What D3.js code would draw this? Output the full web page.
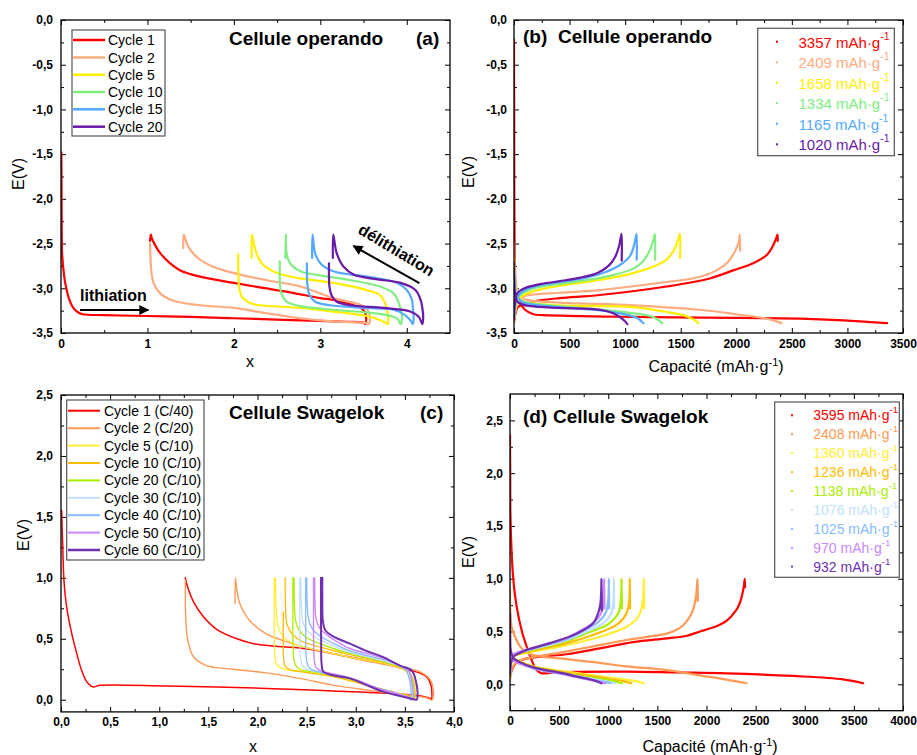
<!DOCTYPE html>
<html><head><meta charset="utf-8">
<script src="https://cdn.jsdelivr.net/npm/d3@7"></script>
<style>
body{margin:0;background:#fff;}
svg{font-family:"Liberation Sans",Arial,sans-serif;}
</style></head><body>
<svg id="chart" width="917" height="755"></svg>
<script>
// ---------------- DATA ----------------
// Panel (a): E(V) vs x, Cellule operando
const aCycles = ["Cycle 1","Cycle 2","Cycle 5","Cycle 10","Cycle 15","Cycle 20"];
const a1 = [[0.004,-1.48],[0.006,-1.9],[0.008,-2.3],[0.012,-2.6],[0.027,-2.78],[0.045,-2.92],[0.066,-3.02],[0.09,-3.11],[0.124,-3.19],[0.16,-3.24],[0.2,-3.27],[0.25,-3.29],[0.5,-3.30],[1.0,-3.31],[1.5,-3.32],[2.0,-3.335],[2.5,-3.35],[3.0,-3.365],[3.3,-3.375],[3.5,-3.385],[3.52,-3.40],[3.53,-3.36],[3.52,-3.28],[3.47,-3.22],[3.35,-3.18],[3.15,-3.13],[3.0,-3.11],[2.65,-3.045],[2.3,-2.99],[2.0,-2.94],[1.61,-2.87],[1.38,-2.80],[1.25,-2.71],[1.15,-2.61],[1.09,-2.52],[1.05,-2.44],[1.04,-2.40],[1.03,-2.47]];
const a2 = [[1.03,-2.5],[1.035,-2.65],[1.04,-2.76],[1.07,-2.94],[1.15,-3.06],[1.25,-3.12],[1.34,-3.15],[1.61,-3.19],[2.0,-3.22],[2.38,-3.28],[2.77,-3.335],[3.15,-3.37],[3.54,-3.39],[3.56,-3.40],[3.575,-3.35],[3.56,-3.27],[3.52,-3.21],[3.42,-3.17],[3.15,-3.11],[2.77,-2.98],[2.38,-2.91],[2.0,-2.83],[1.76,-2.76],[1.57,-2.65],[1.47,-2.53],[1.42,-2.40],[1.415,-2.55]];
const a5 = [[2.05,-2.62],[2.05,-2.75],[2.052,-2.87],[2.065,-3.02],[2.09,-3.09],[2.13,-3.13],[2.2,-3.17],[2.3,-3.19],[2.77,-3.22],[3.15,-3.26],[3.54,-3.31],[3.69,-3.355],[3.76,-3.39],[3.78,-3.40],[3.785,-3.33],[3.77,-3.24],[3.75,-3.17],[3.69,-3.075],[3.54,-3.02],[3.15,-2.94],[2.77,-2.89],[2.5,-2.83],[2.34,-2.74],[2.27,-2.63],[2.23,-2.50],[2.21,-2.40],[2.205,-2.66]];
const a10 = [[2.53,-2.70],[2.53,-2.82],[2.532,-2.94],[2.55,-3.06],[2.61,-3.15],[2.77,-3.20],[3.15,-3.24],[3.54,-3.27],[3.77,-3.30],[3.89,-3.34],[3.93,-3.40],[3.945,-3.32],[3.93,-3.24],[3.91,-3.17],[3.85,-3.06],[3.69,-2.98],[3.35,-2.91],[2.96,-2.85],[2.77,-2.81],[2.65,-2.72],[2.61,-2.61],[2.60,-2.40],[2.595,-2.66]];
const a15 = [[2.845,-2.72],[2.845,-2.84],[2.85,-2.96],[2.875,-3.075],[2.94,-3.15],[3.115,-3.19],[3.54,-3.22],[3.85,-3.24],[3.98,-3.30],[4.04,-3.355],[4.07,-3.40],[4.08,-3.32],[4.07,-3.22],[4.06,-3.13],[4.0,-3.02],[3.89,-2.94],[3.54,-2.87],[3.15,-2.81],[3.0,-2.72],[2.94,-2.61],[2.91,-2.40],[2.905,-2.66]];
const a20 = [[3.10,-2.72],[3.10,-2.85],[3.105,-2.98],[3.135,-3.09],[3.19,-3.15],[3.35,-3.19],[3.73,-3.22],[4.04,-3.26],[4.14,-3.32],[4.18,-3.40],[4.19,-3.32],[4.18,-3.22],[4.16,-3.13],[4.10,-3.02],[3.93,-2.94],[3.66,-2.90],[3.39,-2.85],[3.27,-2.76],[3.19,-2.61],[3.15,-2.40],[3.145,-2.66]];
const aSeries = [a1,a2,a5,a10,a15,a20];
const aColors = ["#ff0000","#ffab80","#ffee00","#80ee80","#55aaff","#6a1aa8"];

// Panel (b): E(V) vs capacity, Cellule operando
const bCaps = ["3357","2409","1658","1334","1165","1020"];
const b1d = [[0,-0.22],[1,-0.8],[2,-1.5],[3,-2.0],[5,-2.45],[8,-2.75],[15,-2.98],[39,-3.13],[99,-3.24],[174,-3.29],[264,-3.30],[1073,-3.32],[1972,-3.33],[2572,-3.34],[2811,-3.35],[3111,-3.37],[3357,-3.39]];
const b1c = [[0,-3.38],[10,-3.30],[30,-3.22],[60,-3.19],[110,-3.17],[204,-3.14],[414,-3.11],[773,-3.075],[1372,-2.98],[1762,-2.89],[1972,-2.80],[2152,-2.72],[2272,-2.63],[2332,-2.52],[2362,-2.43],[2371,-2.40],[2373,-2.47]];
const b2d = [[0,-2.5],[3,-2.7],[8,-2.85],[20,-2.98],[39,-3.05],[70,-3.10],[114,-3.13],[414,-3.16],[1073,-3.19],[1673,-3.24],[2000,-3.29],[2272,-3.34],[2409,-3.39]];
const b2c = [[0,-3.38],[10,-3.28],[30,-3.18],[60,-3.11],[114,-3.08],[414,-3.05],[773,-3.02],[1372,-2.93],[1650,-2.88],[1822,-2.80],[1930,-2.70],[1990,-2.58],[2025,-2.47],[2032,-2.40],[2034,-2.58]];
const b5d = [[0,-2.65],[3,-2.8],[8,-2.95],[20,-3.05],[45,-3.12],[114,-3.16],[400,-3.19],[1073,-3.21],[1350,-3.26],[1522,-3.30],[1620,-3.35],[1658,-3.39]];
const b5c = [[0,-3.35],[10,-3.25],[30,-3.15],[60,-3.10],[114,-3.06],[250,-3.01],[474,-2.96],[800,-2.90],[1073,-2.83],[1250,-2.76],[1373,-2.68],[1440,-2.57],[1470,-2.48],[1493,-2.39],[1494,-2.66]];
const b10d = [[0,-2.7],[3,-2.85],[8,-2.97],[20,-3.06],[45,-3.12],[114,-3.16],[400,-3.20],[713,-3.23],[1013,-3.27],[1253,-3.32],[1334,-3.39]];
const b10c = [[0,-3.33],[10,-3.22],[30,-3.12],[60,-3.07],[114,-3.03],[250,-2.98],[414,-2.95],[700,-2.90],[900,-2.85],[1073,-2.78],[1160,-2.70],[1220,-2.58],[1250,-2.48],[1268,-2.39],[1269,-2.68]];
const b15d = [[0,-2.8],[3,-2.92],[10,-3.02],[30,-3.10],[70,-3.15],[150,-3.18],[400,-3.21],[713,-3.24],[953,-3.28],[1103,-3.33],[1165,-3.39]];
const b15c = [[0,-3.33],[10,-3.2],[30,-3.10],[60,-3.05],[114,-3.01],[250,-2.96],[414,-2.93],[650,-2.88],[820,-2.82],[953,-2.74],[1043,-2.64],[1080,-2.52],[1103,-2.39],[1104,-2.68]];
const b20d = [[0,-2.72],[2,-2.9],[8,-3.05],[25,-3.14],[70,-3.18],[150,-3.20],[400,-3.22],[773,-3.24],[893,-3.28],[983,-3.35],[1020,-3.40]];
const b20c = [[0,-3.35],[5,-3.2],[20,-3.08],[50,-3.03],[114,-2.99],[250,-2.95],[414,-2.92],[600,-2.88],[750,-2.83],[850,-2.75],[910,-2.65],[945,-2.53],[968,-2.39],[969,-2.69]];
const bSeries = [[b1d,b1c],[b2d,b2c],[b5d,b5c],[b10d,b10c],[b15d,b15c],[b20d,b20c]];

// Panel (c): E(V) vs x, Cellule Swagelok
const cCycles = ["Cycle 1 (C/40)","Cycle 2 (C/20)","Cycle 5 (C/10)","Cycle 10 (C/10)","Cycle 20 (C/10)","Cycle 30 (C/10)","Cycle 40 (C/10)","Cycle 50 (C/10)","Cycle 60 (C/10)"];
const c1 = [[0.007,1.55],[0.012,1.4],[0.018,1.25],[0.03,0.98],[0.058,0.76],[0.11,0.54],[0.16,0.38],[0.21,0.24],[0.26,0.15],[0.30,0.115],[0.33,0.105],[0.40,0.118],[1.08,0.112],[2.09,0.093],[2.77,0.071],[3.45,0.046],[3.70,0.025],[3.76,0.011],[3.77,0.0],[3.775,0.06],[3.765,0.12],[3.73,0.18],[3.65,0.22],[3.55,0.24],[3.28,0.30],[2.94,0.35],[2.64,0.40],[2.43,0.425],[2.16,0.44],[1.96,0.46],[1.79,0.50],[1.58,0.58],[1.45,0.68],[1.35,0.80],[1.29,0.92],[1.265,1.0]];
const c2 = [[1.266,0.98],[1.266,0.85],[1.268,0.71],[1.29,0.49],[1.35,0.35],[1.48,0.28],[1.75,0.25],[2.09,0.22],[2.43,0.175],[2.77,0.12],[3.11,0.08],[3.45,0.046],[3.72,0.016],[3.78,0.0],[3.79,0.04],[3.79,0.08],[3.76,0.16],[3.65,0.23],[3.49,0.26],[3.15,0.31],[2.81,0.37],[2.53,0.42],[2.30,0.475],[2.09,0.54],[1.92,0.65],[1.82,0.79],[1.79,0.9],[1.775,1.0],[1.772,0.79]];
const c5 = [[2.17,1.0],[2.17,0.7],[2.172,0.45],[2.18,0.34],[2.195,0.29],[2.23,0.265],[2.30,0.245],[2.43,0.23],[2.77,0.19],[3.0,0.145],[3.11,0.12],[3.3,0.08],[3.45,0.05],[3.55,0.02],[3.57,0.0],[3.575,0.06],[3.56,0.14],[3.52,0.22],[3.45,0.26],[3.28,0.30],[2.94,0.35],[2.60,0.41],[2.36,0.46],[2.26,0.52],[2.21,0.60],[2.19,0.76],[2.182,1.0]];
const c10 = [[2.262,0.72],[2.262,0.45],[2.265,0.34],[2.28,0.28],[2.32,0.25],[2.45,0.23],[2.77,0.19],[3.11,0.12],[3.3,0.08],[3.45,0.05],[3.57,0.02],[3.60,0.0],[3.605,0.06],[3.59,0.15],[3.55,0.22],[3.45,0.265],[3.28,0.31],[2.94,0.37],[2.65,0.43],[2.45,0.48],[2.35,0.54],[2.30,0.62],[2.285,0.78],[2.282,1.0]];
const c20 = [[2.36,1.0],[2.36,0.7],[2.362,0.45],[2.37,0.33],[2.39,0.28],[2.43,0.25],[2.55,0.23],[2.77,0.20],[3.0,0.155],[3.2,0.10],[3.4,0.06],[3.55,0.02],[3.59,0.0],[3.595,0.06],[3.58,0.15],[3.54,0.23],[3.45,0.27],[3.28,0.315],[2.94,0.38],[2.70,0.44],[2.52,0.50],[2.43,0.56],[2.39,0.64],[2.375,0.80],[2.372,1.0]];
const c30 = [[2.43,1.0],[2.43,0.7],[2.432,0.45],[2.44,0.33],[2.46,0.28],[2.50,0.25],[2.6,0.23],[2.8,0.20],[3.0,0.16],[3.2,0.10],[3.4,0.06],[3.53,0.02],[3.57,0.0],[3.575,0.06],[3.56,0.15],[3.53,0.23],[3.45,0.275],[3.28,0.32],[2.94,0.39],[2.75,0.45],[2.59,0.51],[2.50,0.57],[2.46,0.65],[2.445,0.80],[2.442,1.0]];
const c40 = [[2.49,1.0],[2.49,0.7],[2.492,0.45],[2.50,0.32],[2.52,0.27],[2.56,0.245],[2.65,0.225],[2.85,0.195],[3.0,0.16],[3.2,0.10],[3.4,0.055],[3.53,0.015],[3.56,0.0],[3.565,0.06],[3.55,0.15],[3.52,0.23],[3.45,0.28],[3.28,0.33],[2.94,0.40],[2.78,0.46],[2.64,0.52],[2.56,0.58],[2.52,0.66],[2.505,0.80],[2.502,1.0]];
const c50 = [[2.57,1.0],[2.57,0.7],[2.572,0.45],[2.58,0.31],[2.60,0.26],[2.65,0.235],[2.75,0.215],[2.9,0.19],[3.05,0.15],[3.2,0.10],[3.4,0.055],[3.55,0.015],[3.58,0.0],[3.585,0.06],[3.57,0.15],[3.54,0.235],[3.45,0.28],[3.28,0.34],[2.94,0.42],[2.82,0.47],[2.71,0.53],[2.63,0.59],[2.595,0.67],[2.585,0.80],[2.582,1.0]];
const c60 = [[2.646,1.0],[2.646,0.7],[2.648,0.45],[2.652,0.30],[2.67,0.23],[2.77,0.20],[2.94,0.175],[3.11,0.12],[3.28,0.066],[3.45,0.03],[3.59,0.003],[3.62,0.0],[3.63,0.05],[3.61,0.16],[3.57,0.24],[3.45,0.28],[3.28,0.35],[3.11,0.40],[2.94,0.46],[2.77,0.52],[2.69,0.57],[2.665,0.65],[2.66,0.84],[2.66,1.0]];
const cSeries = [c1,c2,c5,c10,c20,c30,c40,c50,c60];
const cColors = ["#ff0000","#ff9955","#ffee33","#ffbb00","#aaee00","#c0e0ff","#88bbff","#cc88ff","#7030b0"];

// Panel (d): E(V) vs capacity, Cellule Swagelok
const dCaps = ["3595","2408","1360","1236","1138","1076","1025","970","932"];
const d1d = [[0,2.36],[2,2.0],[4,1.62],[17,1.24],[34,0.99],[68,0.735],[119,0.51],[170,0.356],[220,0.23],[271,0.136],[320,0.105],[339,0.104],[441,0.11],[700,0.118],[1187,0.12],[1700,0.112],[2204,0.104],[2882,0.079],[3390,0.047],[3594,0.01]];
const d1c = [[0,0.06],[20,0.14],[60,0.20],[150,0.24],[350,0.265],[577,0.285],[915,0.34],[1254,0.40],[1594,0.435],[1800,0.46],[1932,0.50],[2100,0.55],[2204,0.60],[2300,0.70],[2339,0.77],[2375,0.90],[2390,1.0],[2392,0.92]];
const d2d = [[0,0.9],[3,0.7],[15,0.55],[51,0.45],[102,0.36],[170,0.30],[300,0.265],[509,0.245],[848,0.21],[1187,0.17],[1594,0.135],[1932,0.085],[2204,0.045],[2408,0.01]];
const d2c = [[0,0.04],[20,0.15],[68,0.21],[170,0.245],[509,0.30],[848,0.36],[1187,0.42],[1400,0.45],[1594,0.48],[1700,0.52],[1763,0.56],[1830,0.64],[1865,0.71],[1895,0.85],[1909,1.0],[1911,0.79]];
const d5d = [[0,0.35],[5,0.30],[20,0.26],[60,0.235],[237,0.17],[576,0.12],[915,0.075],[1254,0.035],[1360,0.01]];
const d5c = [[0,0.05],[10,0.18],[34,0.26],[100,0.285],[237,0.31],[577,0.37],[915,0.45],[1187,0.545],[1305,0.64],[1350,0.77],[1363,1.0],[1365,0.72]];
const d10d = [[0,0.33],[5,0.29],[20,0.255],[60,0.23],[237,0.165],[576,0.11],[915,0.065],[1150,0.03],[1236,0.01]];
const d10c = [[0,0.06],[10,0.19],[34,0.265],[100,0.29],[237,0.32],[577,0.39],[850,0.47],[1080,0.56],[1180,0.66],[1212,0.78],[1220,1.0],[1222,0.72]];
const d20d = [[0,0.32],[5,0.28],[20,0.25],[60,0.225],[237,0.16],[576,0.10],[900,0.055],[1080,0.025],[1138,0.01]];
const d20c = [[0,0.07],[10,0.2],[34,0.27],[100,0.295],[237,0.33],[577,0.41],[800,0.49],[1000,0.57],[1100,0.67],[1128,0.79],[1136,1.0],[1138,0.72]];
const d30d = [[0,0.31],[5,0.275],[20,0.245],[60,0.22],[237,0.155],[576,0.095],[850,0.05],[1020,0.02],[1076,0.01]];
const d30c = [[0,0.08],[10,0.21],[34,0.275],[100,0.30],[237,0.335],[577,0.42],[780,0.50],[950,0.58],[1030,0.67],[1052,0.79],[1058,1.0],[1060,0.72]];
const d40d = [[0,0.30],[5,0.27],[20,0.24],[60,0.215],[237,0.15],[576,0.09],[820,0.045],[975,0.02],[1025,0.01]];
const d40c = [[0,0.09],[10,0.22],[34,0.28],[100,0.305],[237,0.34],[577,0.43],[750,0.51],[900,0.59],[975,0.68],[1000,0.80],[1007,1.0],[1009,0.72]];
const d50d = [[0,0.30],[5,0.265],[20,0.24],[60,0.21],[237,0.155],[576,0.09],[800,0.045],[930,0.02],[970,0.01]];
const d50c = [[0,0.09],[10,0.22],[34,0.28],[100,0.31],[237,0.345],[577,0.44],[720,0.51],[860,0.59],[930,0.68],[952,0.80],[959,1.0],[961,0.72]];
const d60d = [[0,0.67],[2,0.45],[8,0.32],[34,0.25],[100,0.21],[237,0.16],[509,0.11],[700,0.07],[848,0.04],[932,0.01]];
const d60c = [[0,0.10],[10,0.2],[34,0.26],[170,0.325],[407,0.39],[678,0.48],[847,0.58],[915,0.735],[932,1.0],[934,0.70]];
const dSeries = [[d1d,d1c],[d2d,d2c],[d5d,d5c],[d10d,d10c],[d20d,d20c],[d30d,d30c],[d40d,d40c],[d50d,d50c],[d60d,d60c]];

// Ticks
const aXTicks = [0,1,2,3,4], aXMinor = [0.5,1.5,2.5,3.5];
const opYTicks = [0,-0.5,-1,-1.5,-2,-2.5,-3,-3.5], opYMinor = [-0.25,-0.75,-1.25,-1.75,-2.25,-2.75,-3.25];
const bXTicks = [0,500,1000,1500,2000,2500,3000,3500], bXMinor = [250,750,1250,1750,2250,2750,3250];
const cXTicks = [0,0.5,1,1.5,2,2.5,3,3.5,4], cXMinor = [0.25,0.75,1.25,1.75,2.25,2.75,3.25,3.75];
const swYTicks = [0,0.5,1,1.5,2,2.5], swYMinor = [0.25,0.75,1.25,1.75,2.25];
const dXTicks = [0,500,1000,1500,2000,2500,3000,3500,4000], dXMinor = [250,750,1250,1750,2250,2750,3250,3750];

// ---------------- DRAWING ----------------
const svg = d3.select("#chart");
const fmtComma = d => (d < 0 ? "-" : "") + Math.abs(d).toFixed(1).replace(".", ",");
const fmtInt = d => String(d);

function panel(cfg){
  const x = d3.scaleLinear().domain(cfg.xd).range([cfg.l, cfg.r]);
  const y = d3.scaleLinear().domain(cfg.yd).range([cfg.b, cfg.t]);
  const g = svg.append("g");
  const clipId = "clip-" + cfg.name;
  svg.append("defs").append("clipPath").attr("id", clipId)
    .append("rect").attr("x", cfg.l).attr("y", cfg.t).attr("width", cfg.r - cfg.l).attr("height", cfg.b - cfg.t);

  function styleAxis(sel){
    sel.select(".domain").remove();
    sel.attr("font-size", null).attr("font-family", null);
    sel.selectAll("line").attr("stroke", "#000").attr("stroke-width", 1);
    sel.selectAll("text").attr("font-size", 12).attr("font-weight", "bold").attr("fill", "#000");
  }
  const xMaj = (ax) => ax.tickValues(cfg.xt).tickSizeInner(-5).tickSizeOuter(0);
  const yMaj = (ax) => ax.tickValues(cfg.yt).tickSizeInner(-5).tickSizeOuter(0);
  g.append("g").attr("transform", `translate(0,${cfg.b})`)
    .call(xMaj(d3.axisBottom(x)).tickFormat(cfg.fx).tickPadding(6)).call(styleAxis);
  g.append("g").attr("transform", `translate(0,${cfg.b})`)
    .call(d3.axisBottom(x).tickValues(cfg.xm).tickSizeInner(-3).tickSizeOuter(0).tickFormat("")).call(styleAxis);
  g.append("g").attr("transform", `translate(0,${cfg.t})`)
    .call(xMaj(d3.axisTop(x)).tickFormat("")).call(styleAxis);
  g.append("g").attr("transform", `translate(0,${cfg.t})`)
    .call(d3.axisTop(x).tickValues(cfg.xm).tickSizeInner(-3).tickSizeOuter(0).tickFormat("")).call(styleAxis);
  g.append("g").attr("transform", `translate(${cfg.l},0)`)
    .call(yMaj(d3.axisLeft(y)).tickFormat(cfg.fy).tickPadding(cfg.ypad)).call(styleAxis);
  g.append("g").attr("transform", `translate(${cfg.l},0)`)
    .call(d3.axisLeft(y).tickValues(cfg.ym).tickSizeInner(-3).tickSizeOuter(0).tickFormat("")).call(styleAxis);
  g.append("g").attr("transform", `translate(${cfg.r},0)`)
    .call(yMaj(d3.axisRight(y)).tickFormat("")).call(styleAxis);
  g.append("g").attr("transform", `translate(${cfg.r},0)`)
    .call(d3.axisRight(y).tickValues(cfg.ym).tickSizeInner(-3).tickSizeOuter(0).tickFormat("")).call(styleAxis);

  const line = d3.line().x(d => x(d[0])).y(d => y(d[1])).curve(d3.curveCatmullRom.alpha(0.5));
  const curves = g.append("g").attr("clip-path", `url(#${clipId})`);
  cfg.series.forEach((s, i) => {
    const parts = cfg.split ? s : [s];
    parts.forEach(p => {
      curves.append("path").datum(p).attr("d", line)
        .attr("fill", "none").attr("stroke", cfg.colors[i])
        .attr("stroke-width", cfg.widths[i]).attr("stroke-linejoin", "round").attr("stroke-linecap", "round");
    });
  });

  g.append("rect").attr("x", cfg.l).attr("y", cfg.t).attr("width", cfg.r - cfg.l).attr("height", cfg.b - cfg.t)
    .attr("fill", "none").attr("stroke", "#000").attr("stroke-width", 1.3);
  return {g, x, y};
}

function sup(textSel, base, supTxt, tail, supSize){
  textSel.append("tspan").text(base);
  textSel.append("tspan").attr("dy", -6).attr("font-size", supSize).text(supTxt);
  if (tail) textSel.append("tspan").attr("dy", 6).text(tail);
}

// Panel (a)
const A = panel({name:"a", l:61, r:450, t:20, b:333, xd:[0,4.5], yd:[-3.5,0],
  xt:aXTicks, xm:aXMinor, yt:opYTicks, ym:opYMinor, fx:fmtInt, fy:fmtComma, ypad:8,
  series:aSeries, colors:aColors, widths:[2.2,2.2,2.2,2.2,2.2,2.2], split:false});
// Panel (b)
const B = panel({name:"b", l:514, r:903, t:20, b:333, xd:[0,3500], yd:[-3.5,0],
  xt:bXTicks, xm:bXMinor, yt:opYTicks, ym:opYMinor, fx:fmtInt, fy:fmtComma, ypad:7,
  series:bSeries, colors:aColors, widths:[2.2,2.2,2.2,2.2,2.2,2.2], split:true});
// Panel (c)
const C = panel({name:"c", l:61, r:454, t:395, b:711.9, xd:[0,4], yd:[-0.1,2.5],
  xt:cXTicks, xm:cXMinor, yt:swYTicks, ym:swYMinor, fx:fmtComma, fy:fmtComma, ypad:8,
  series:cSeries, colors:cColors, widths:[1.5,1.4,1.3,1.3,1.3,1.3,1.3,1.4,2], split:false});
// Panel (d)
const D = panel({name:"d", l:510, r:903, t:394, b:710.7, xd:[0,4000], yd:[-0.25,2.75],
  xt:dXTicks, xm:dXMinor, yt:swYTicks, ym:swYMinor, fx:fmtInt, fy:fmtComma, ypad:7,
  series:dSeries, colors:cColors, widths:[2.2,2.2,2.2,2.2,2.2,2.2,2.2,2.2,2.2], split:true});

// Axis titles
function yTitle(cx, cy){
  svg.append("text").attr("transform", `translate(${cx},${cy}) rotate(-90)`)
    .attr("text-anchor", "middle").attr("dominant-baseline", "central")
    .attr("font-size", 16).text("E(V)");
}
yTitle(18, 174); yTitle(468, 172); yTitle(23, 535); yTitle(468, 552);
svg.append("text").attr("x", 250).attr("y", 367).attr("text-anchor", "middle").attr("font-size", 16).text("x");
svg.append("text").attr("x", 253).attr("y", 752).attr("text-anchor", "middle").attr("font-size", 16).text("x");
function capTitle(cx, by){
  const t = svg.append("text").attr("x", cx).attr("y", by).attr("text-anchor", "middle").attr("font-size", 16);
  sup(t, "Capacité (mAh·g", "-1", ")", 11);
}
capTitle(716, 372); capTitle(710, 752);

// Panel titles
function bold(x, y, txt){ svg.append("text").attr("x", x).attr("y", y).attr("font-size", 19).attr("font-weight", "bold").text(txt); }
bold(229, 45, "Cellule operando"); bold(416, 45, "(a)");
bold(523, 43, "(b)"); bold(558, 43, "Cellule operando");
bold(229, 419, "Cellule Swagelok"); bold(420, 419, "(c)");
bold(523, 423, "(d)"); bold(553, 423, "Cellule Swagelok");

// Legends with lines (a), (c)
function lineLegend(box, ys, labels, colors, widths, lx0, lx1, tx){
  svg.append("rect").attr("x", box[0]).attr("y", box[1]).attr("width", box[2]).attr("height", box[3])
    .attr("fill", "#fff").attr("stroke", "#555").attr("stroke-width", 1.2);
  labels.forEach((lab, i) => {
    svg.append("line").attr("x1", lx0).attr("x2", lx1).attr("y1", ys[i]).attr("y2", ys[i])
      .attr("stroke", colors[i]).attr("stroke-width", widths[i]);
    svg.append("text").attr("x", tx).attr("y", ys[i]).attr("dominant-baseline", "central")
      .attr("font-size", 14).text(lab);
  });
}
lineLegend([72,30,93,106], [40,57.5,74.7,92,109.3,126.7], aCycles, aColors, [2.5,2.5,2.5,2.5,2.5,2.5], 73, 105, 108);
lineLegend([66.7,400,137.3,160], [410.7,428.2,445.6,463,480.4,497.8,515.2,532.6,550], cCycles, cColors, [2,2,2,2,2,2,2,2,2.5], 68, 100, 104);

// Legends with dots (b), (d)
function dotLegend(box, ys, caps, colors, dx, tx, fs){
  svg.append("rect").attr("x", box[0]).attr("y", box[1]).attr("width", box[2]).attr("height", box[3])
    .attr("fill", "#fff").attr("stroke", "#555").attr("stroke-width", 1.2);
  caps.forEach((c, i) => {
    svg.append("rect").attr("x", dx - 1).attr("y", ys[i] - 1).attr("width", 2).attr("height", 2).attr("fill", colors[i]);
    const t = svg.append("text").attr("x", tx).attr("y", ys[i]).attr("dominant-baseline", "central")
      .attr("font-size", fs).attr("fill", colors[i]);
    sup(t, c + " mAh·g", "-1", null, fs * 0.7);
  });
}
dotLegend([757.7,28.3,136.6,127.4], [41.7,62.3,82.7,103.2,123.7,144.3], bCaps, aColors, 777, 798.5, 15);
dotLegend([774.7,402,124.6,175.3], [415.3,434.3,453.2,472.1,491,510,528.9,547.8,566.6], dCaps, cColors, 792, 813.3, 14);

// Annotations in (a)
const defs = svg.append("defs");
defs.append("marker").attr("id", "arrow").attr("viewBox", "0 0 10 10").attr("refX", 9).attr("refY", 5)
  .attr("markerWidth", 6).attr("markerHeight", 5).attr("markerUnits", "strokeWidth").attr("orient", "auto")
  .append("path").attr("d", "M0,0 L10,5 L0,10 z").attr("fill", "#000");
const ann = A.g.append("g");
ann.append("line").attr("x1", A.x(0.22)).attr("y1", A.y(-3.243)).attr("x2", A.x(1.01)).attr("y2", A.y(-3.243))
  .attr("stroke", "#000").attr("stroke-width", 2).attr("marker-end", "url(#arrow)");
ann.append("text").attr("x", A.x(0.22)).attr("y", A.y(-3.142)).attr("font-size", 16).attr("font-weight", "bold").text("lithiation");
ann.append("line").attr("x1", A.x(4.146)).attr("y1", A.y(-2.941)).attr("x2", A.x(3.382)).attr("y2", A.y(-2.527))
  .attr("stroke", "#000").attr("stroke-width", 2).attr("marker-end", "url(#arrow)");
ann.append("text").attr("transform", `translate(${A.x(3.88)},${A.y(-2.572)}) rotate(31)`)
  .attr("text-anchor", "middle").attr("dominant-baseline", "central")
  .attr("font-size", 16).attr("font-weight", "bold").text("délithiation");
</script>
</body></html>
